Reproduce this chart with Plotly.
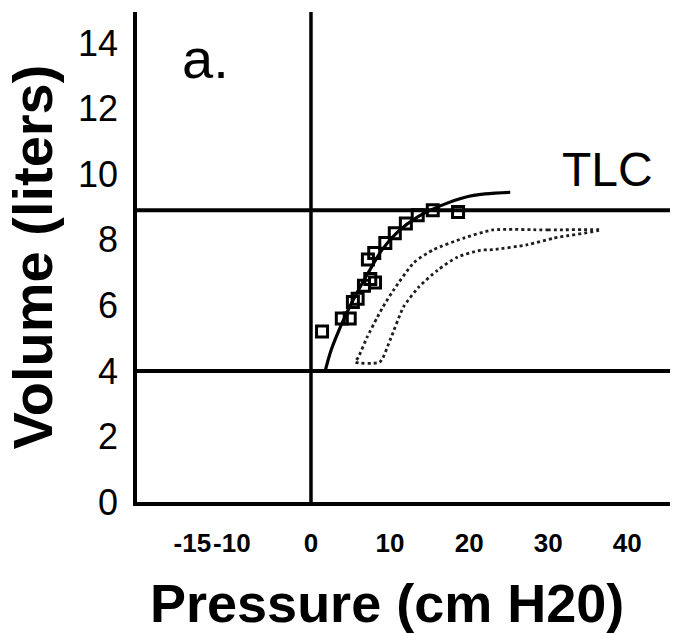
import plotly.graph_objects as go

# Pressure-volume data (pressure in cm H2O, volume in liters)
meas_pressure = [1.4, 3.9, 4.9, 5.3, 5.9, 6.7, 7.5, 8.1, 7.2, 8.0, 9.4, 10.6, 12.0, 13.5, 15.4, 18.6]
meas_volume = [5.2, 5.6, 5.6, 6.1, 6.2, 6.6, 6.8, 6.7, 7.4, 7.6, 7.9, 8.2, 8.5, 8.75, 8.9, 8.85]

fit_pressure = [1.8, 2.5, 3.3, 4.2, 5.2, 6.3, 7.5, 9.0, 11.0, 13.5, 16.5, 19.5, 22.0, 25.2]
fit_volume = [4.0, 4.6, 5.1, 5.6, 6.1, 6.6, 7.1, 7.7, 8.25, 8.7, 9.05, 9.3, 9.4, 9.45]

loop_pressure = [36.6, 30.0, 23.0, 19.3, 15.5, 13.0, 10.4, 9.1, 8.4, 7.1, 6.0, 5.6,
                 8.7, 10.0, 11.7, 13.6, 16.0, 18.5, 21.4, 23.0, 27.4, 30.7, 36.6]
loop_volume = [8.3, 8.3, 8.3, 8.05, 7.7, 7.3, 6.45, 5.95, 5.64, 5.03, 4.42, 4.27,
               4.27, 4.94, 5.95, 6.55, 7.07, 7.47, 7.68, 7.7, 7.85, 8.05, 8.3]

tlc_volume = 8.9
frc_volume = 4.0

x_ticks = [-15, -10, 0, 10, 20, 30, 40]
y_ticks = [0, 2, 4, 6, 8, 10, 12, 14]

FONT = "Liberation Sans, Arial, sans-serif"

fig = go.Figure()

fig.add_trace(go.Scatter(
    x=loop_pressure, y=loop_volume, mode="lines",
    line=dict(color="#1e1e1e", width=2.8, dash="3px,3px", shape="spline", smoothing=0.6),
    showlegend=False,
))
fig.add_trace(go.Scatter(
    x=fit_pressure, y=fit_volume, mode="lines",
    line=dict(color="black", width=3.2, shape="spline"),
    showlegend=False,
))
fig.add_trace(go.Scatter(
    x=meas_pressure, y=meas_volume, mode="markers",
    marker=dict(symbol="square-open", size=11, color="black", line=dict(width=3)),
    showlegend=False,
))

# reference lines: zero pressure, TLC and FRC levels
fig.add_shape(type="line", xref="x", yref="paper", x0=0, x1=0, y0=0, y1=1,
              line=dict(color="black", width=3.5))
for v in (tlc_volume, frc_volume):
    fig.add_shape(type="line", xref="paper", yref="y", x0=0, x1=1, y0=v, y1=v,
                  line=dict(color="black", width=4))

fig.add_annotation(x=0.08, y=0.905, xref="paper", yref="paper", text="a.",
                   showarrow=False, xanchor="left", yanchor="middle",
                   font=dict(family=FONT, size=56, color="black"))
fig.add_annotation(x=37.5, y=tlc_volume, xref="x", yref="y", text="TLC",
                   showarrow=False, xanchor="center", yanchor="bottom", yshift=12,
                   font=dict(family=FONT, size=48, color="black"))
# x-axis title, set slightly left of the plot-area centre
fig.add_annotation(x=0.469, y=-0.206, xref="paper", yref="paper",
                   text="<b>Pressure (cm H20)</b>",
                   showarrow=False, xanchor="center", yanchor="middle",
                   font=dict(family=FONT, size=54, color="black"))

fig.update_xaxes(
    range=[-22.0, 45.4], tickvals=x_ticks, ticktext=[str(t) for t in x_ticks],
    showgrid=False, zeroline=False, showline=True, linecolor="black", linewidth=3.5,
    ticks="", ticklabelstandoff=15, tickangle=0,
    tickfont=dict(family=FONT, size=26, color="black", weight="bold"),
)
fig.update_yaxes(
    range=[0, 14.95], tickvals=y_ticks,
    showgrid=False, zeroline=False, showline=True, linecolor="black", linewidth=3.5,
    ticks="", ticklabelstandoff=8,
    tickfont=dict(family=FONT, size=36, color="black"),
    title=dict(text="Volume (liters)", standoff=8,
               font=dict(family=FONT, size=56, color="black", weight="bold")),
)

fig.update_layout(
    width=673, height=633,
    margin=dict(l=137, r=3, t=12, b=131, autoexpand=False),
    paper_bgcolor="white", plot_bgcolor="white",
)

fig.write_html("out.html")
